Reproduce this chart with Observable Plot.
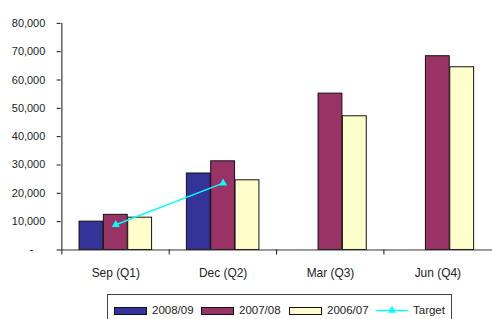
<!DOCTYPE html>
<html><head><meta charset="utf-8">
<script src="https://cdn.jsdelivr.net/npm/d3@7"></script>
<script src="https://cdn.jsdelivr.net/npm/@observablehq/plot@0.6"></script>
<style>
body{margin:0;background:#fff;font-family:"Liberation Sans",Arial,sans-serif;}
#wrap{position:relative;width:492px;height:319px;overflow:hidden;background:#fff;}
#chart svg{display:block;}
#legend{position:absolute;left:107px;top:294px;width:345px;height:30px;border:1px solid #444;box-sizing:border-box;background:#fff;}
#legend .sw{position:absolute;top:12px;width:31px;height:6px;border:1px solid #111;}
#legend .tx{position:absolute;top:9px;font-size:11.5px;line-height:13px;color:#222;white-space:nowrap;}
#legend svg{position:absolute;top:9px;}
</style></head>
<body><div id="wrap"><div id="chart"></div><div id="legend"></div></div>
<script>
const quarters = ["Sep (Q1)", "Dec (Q2)", "Mar (Q3)", "Jun (Q4)"];
const fy0809 = [10000, 27000, null, null];
const fy0708 = [12400, 31300, 55200, 68400];
const fy0607 = [11400, 24600, 47200, 64500];
const target = [8900, 23600, null, null];
const seriesNames = ["2008/09", "2007/08", "2006/07", "Target"];
const seriesColors = ["#333399", "#993366", "#FFFFCC", "#00FFFF"];
const yTicks = [0, 10000, 20000, 30000, 40000, 50000, 60000, 70000, 80000];

const rowsOf = (vals) => quarters.map((q, i) => ({q, v: vals[i]})).filter(d => d.v != null);
const barSeries = [fy0809, fy0708, fy0607];
const barOffsets = [-24.5, 0, 24.5];
const halfStep = -54.25;
const fmt = d3.format(",");

const chart = Plot.plot({
  width: 495,
  height: 290,
  marginLeft: 61,
  marginRight: 0,
  marginTop: 23,
  marginBottom: 39,
  style: {fontFamily: "'Liberation Sans', Arial, sans-serif", background: "#fff", color: "#222"},
  x: {domain: quarters, paddingInner: 0.774, paddingOuter: 0.387, label: null},
  y: {domain: [0, 80000], label: null},
  marks: [
    ...barSeries.map((vals, k) => Plot.barY(rowsOf(vals), {
      x: "q", y: "v", fill: seriesColors[k], stroke: "#111", strokeWidth: 1, dx: barOffsets[k]
    })),
    Plot.ruleY([0], {stroke: "#333"}),
    Plot.ruleX([quarters[0]], {y1: 0, y2: 80000, dx: halfStep, stroke: "#111"}),
    Plot.axisY({ticks: yTicks, tickSize: 4, tickPadding: 12, fontSize: 11, stroke: "#111",
      tickFormat: d => d === 0 ? "-\u2007\u2007" : fmt(d)}),
    Plot.axisX({tickSize: 5, dx: halfStep, tickFormat: () => "", stroke: "#111"}),
    Plot.axisX({tickSize: 0, tickPadding: 19, fontSize: 12}),
    Plot.line(rowsOf(target), {x: "q", y: "v", stroke: seriesColors[3], strokeWidth: 1.4}),
    Plot.dot(rowsOf(target), {x: "q", y: "v", symbol: "triangle", fill: seriesColors[3], r: 3})
  ]
});
document.getElementById("chart").appendChild(chart);

// legend
const legend = document.getElementById("legend");
const swLeft = [6, 93, 181, 268];
const txLeft = [44, 131, 219, 305];
seriesNames.forEach((name, i) => {
  if (i < 3) {
    const s = document.createElement("div");
    s.className = "sw";
    s.style.left = swLeft[i] + "px";
    s.style.background = seriesColors[i];
    legend.appendChild(s);
  } else {
    const s = d3.create("svg").attr("width", 33).attr("height", 12).style("left", swLeft[i] + "px");
    s.append("line").attr("x1", 0).attr("x2", 32).attr("y1", 6.5).attr("y2", 6.5)
      .attr("stroke", seriesColors[i]).attr("stroke-width", 1.4);
    s.append("path").attr("transform", "translate(16,6.5)")
      .attr("d", d3.symbol(d3.symbolTriangle, 28)()).attr("fill", seriesColors[i]);
    legend.appendChild(s.node());
  }
  const t = document.createElement("div");
  t.className = "tx";
  t.style.left = txLeft[i] + "px";
  t.textContent = name;
  legend.appendChild(t);
});
</script>
</body></html>
